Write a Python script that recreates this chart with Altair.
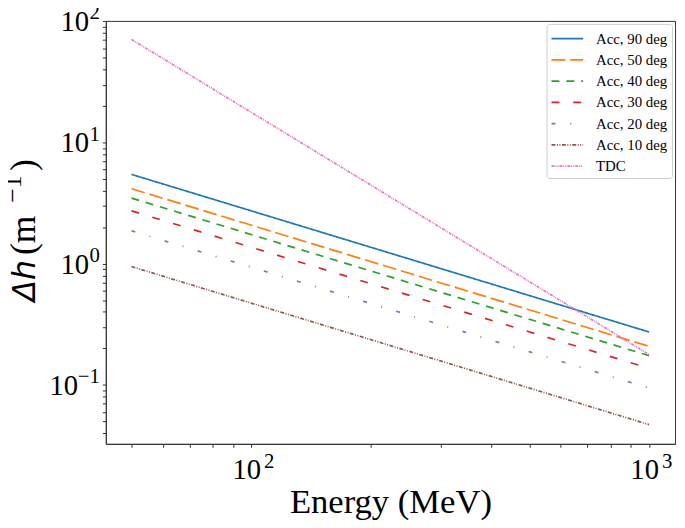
import altair as alt
import pandas as pd

# ---- data ----
series = ["Acc, 90 deg", "Acc, 50 deg", "Acc, 40 deg", "Acc, 30 deg",
          "Acc, 20 deg", "Acc, 10 deg", "TDC"]
energy_start = 50      # MeV
energy_end = 1000      # MeV
dh_start = [5.46, 4.16, 3.48, 2.73, 1.87, 0.947, 71.0]
dh_end = [0.273, 0.208, 0.174, 0.137, 0.094, 0.047, 0.178]

colors = ["#1f77b4", "#ff7f0e", "#2ca02c", "#d62728", "#9467bd", "#8c564b", "#e377c2"]
dashes = [[1, 0], [14, 5], [8, 7], [8, 14], [4, 15, 1, 15],
          [4, 1.5, 1, 1.5, 1, 1.5], [3, 1, 1, 1, 1, 1]]

x_ticks = [50, 60, 70, 80, 90, 100, 200, 300, 400, 500, 600, 700, 800, 900, 1000]
y_ticks = [0.04, 0.05, 0.06, 0.07, 0.08, 0.09,
           0.1, 0.2, 0.3, 0.4, 0.5, 0.6, 0.7, 0.8, 0.9,
           1, 2, 3, 4, 5, 6, 7, 8, 9,
           10, 20, 30, 40, 50, 60, 70, 80, 90, 100]

x_label_vals = [100, 1000]
x_label_exps = ["2", "3"]
y_label_vals = [0.1, 1, 10, 100]
y_label_exps = ["\u22121", "0", "1", "2"]

rows = []
for i, s in enumerate(series):
    rows.append({"series": s, "energy": energy_start, "dh": dh_start[i]})
    rows.append({"series": s, "energy": energy_end, "dh": dh_end[i]})
df = pd.DataFrame(rows)
xlab = pd.DataFrame({"energy": x_label_vals, "exp": x_label_exps})
ylab = pd.DataFrame({"dh": y_label_vals, "exp": y_label_exps})
one = pd.DataFrame({"k": [0]})

FONT = "Liberation Serif"
W, H = 576, 428
XS = alt.Scale(type="log", domain=[43.1, 1162], nice=False)
YS = alt.Scale(type="log", domain=[0.0326, 100.9], nice=False)

legend = alt.Legend(
    title=None, orient="none", legendX=446, legendY=3,
    symbolType="M-1,0H2.2", symbolSize=400, symbolStrokeWidth=1.7,
    labelFont=FONT, labelFontSize=15, labelColor="black", labelOffset=24,
    padding=4, rowPadding=2.5,
    strokeColor="#cccccc", fillColor="white", cornerRadius=3,
)

lines = alt.Chart(df).mark_line(strokeWidth=1.7, clip=True).encode(
    x=alt.X("energy:Q", scale=XS,
            axis=alt.Axis(values=x_ticks, labels=False, title="Energy (MeV)",
                          titleFont=FONT, titleFontSize=35, titleFontWeight="normal",
                          titleColor="black", titleBaseline="alphabetic", titleY=69,
                          tickSize=3.5, tickColor="#333", domainColor="#333",
                          grid=False)),
    y=alt.Y("dh:Q", scale=YS,
            axis=alt.Axis(values=y_ticks, labels=False, title=None,
                          tickSize=3.5, tickColor="#333", domainColor="#333",
                          grid=False)),
    color=alt.Color("series:N", sort=series,
                    scale=alt.Scale(domain=series, range=colors), legend=legend),
    strokeDash=alt.StrokeDash("series:N", sort=series,
                              scale=alt.Scale(domain=series, range=dashes), legend=legend),
    detail="series:N",
)

# x tick labels: "10" + raised exponent
x_base = alt.Chart(xlab).mark_text(
    text="10", font=FONT, fontSize=29, align="right", baseline="alphabetic",
    dx=10, color="black"
).encode(x=alt.X("energy:Q", scale=XS), y=alt.value(H + 36))
x_exp = alt.Chart(xlab).mark_text(
    font=FONT, fontSize=21, align="left", baseline="alphabetic",
    dx=13, color="black"
).encode(x=alt.X("energy:Q", scale=XS), y=alt.value(H + 24), text="exp:N")

# y tick labels
y_base_a = alt.Chart(ylab).transform_filter("datum.exp != '\u22121'").mark_text(
    text="10", font=FONT, fontSize=29, align="right", baseline="alphabetic",
    dy=10, color="black"
).encode(y=alt.Y("dh:Q", scale=YS), x=alt.value(-17))
y_base_b = alt.Chart(ylab).transform_filter("datum.exp == '\u22121'").mark_text(
    text="10", font=FONT, fontSize=29, align="right", baseline="alphabetic",
    dy=10, color="black"
).encode(y=alt.Y("dh:Q", scale=YS), x=alt.value(-28))
y_exp = alt.Chart(ylab).mark_text(
    font=FONT, fontSize=21, align="right", baseline="alphabetic",
    dy=-2, color="black"
).encode(y=alt.Y("dh:Q", scale=YS), x=alt.value(-6), text="exp:N")

# y axis title pieces:  Δh (m^-1)   (rotated, reading upward)
BX = -72


def piece(txt, y, size, font=FONT, style="normal", raise_=0):
    return alt.Chart(one).mark_text(
        text=txt, font=font, fontStyle=style, fontSize=size,
        angle=270, align="left", baseline="alphabetic", color="black"
    ).encode(x=alt.value(BX - raise_), y=alt.value(y))


t1 = piece("\u0394h", 284, 32, font="DejaVu Sans", style="italic")
t2 = piece("(m", 237, 36)
t3 = piece("\u22121", 184, 26, raise_=14)
t4 = piece(")", 152, 36)

chart = alt.layer(
    lines, x_base, x_exp, y_base_a, y_base_b, y_exp, t1, t2, t3, t4
).properties(
    width=W, height=H,
    autosize=alt.AutoSizeParams(type="none"),
    padding={"left": 99, "top": 10, "right": 2, "bottom": 74},
).configure_view(
    stroke="#333", strokeWidth=1,
)

chart.save("out.html", embed_options={"renderer": "svg", "actions": False})
